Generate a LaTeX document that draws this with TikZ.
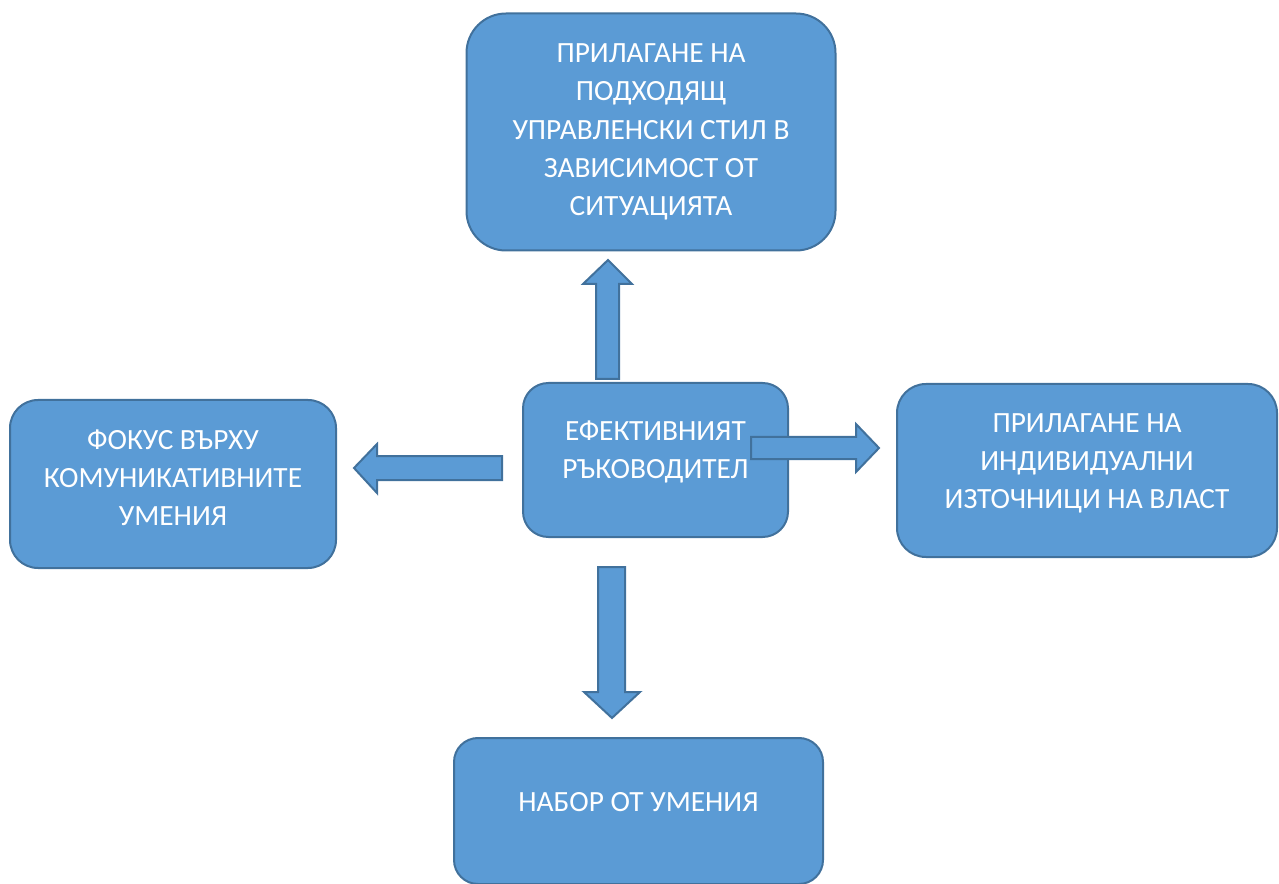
\documentclass[tikz,border=0pt]{standalone}
\usepackage{fontspec}
\setmainfont{Carlito}
\definecolor{boxfill}{HTML}{5B9BD5}
\definecolor{boxline}{HTML}{41719C}
\tikzset{
  box/.style={draw=boxline, fill=boxfill, line width=1.5pt, text=white,
    align=center, font=\fontsize{22}{28.6}\selectfont, inner sep=0pt},
  blockarrow/.style={draw=boxline, fill=boxfill, line width=1.5pt, line join=miter}
}

\begin{document}
\begin{tikzpicture}[x=0.75pt,y=-0.75pt]
   \useasboundingbox (0,0) rectangle (1279,884);
   \node[box,minimum width=276.75pt,minimum height=177.75pt,rounded corners=29.6pt]
     (style) at (651,132) {ПРИЛАГАНЕ НА\\ПОДХОДЯЩ\\УПРАВЛЕНСКИ СТИЛ В\\ЗАВИСИМОСТ ОТ\\СИТУАЦИЯТА};
   \node[box,minimum width=244.5pt,minimum height=126pt,rounded corners=21pt,text depth=9pt]
     (comm) at (173,484) {ФОКУС ВЪРХУ\\КОМУНИКАТИВНИТЕ\\УМЕНИЯ};
   \node[box,minimum width=198.75pt,minimum height=115.5pt,rounded corners=19pt,text depth=15pt]
     (leader) at (655.5,460) {ЕФЕКТИВНИЯТ\\РЪКОВОДИТЕЛ};
   \node[box,minimum width=285pt,minimum height=129.75pt,rounded corners=21.7pt,text depth=14pt]
     (power) at (1087,470.5) {ПРИЛАГАНЕ НА\\ИНДИВИДУАЛНИ\\ИЗТОЧНИЦИ НА ВЛАСТ};
   \node[box,minimum width=276.75pt,minimum height=109.5pt,rounded corners=18pt,text depth=14pt]
     (skills) at (638.5,811) {НАБОР ОТ УМЕНИЯ};
   % block arrows
   \draw[blockarrow] (596,379) -- (596,284) -- (583,284) -- (608,260) -- (632,284)
     -- (619,284) -- (619,379) -- cycle;
   \draw[blockarrow] (502,456) -- (377,456) -- (377,444) -- (354,468) -- (377,493)
     -- (377,480) -- (502,480) -- cycle;
   \draw[blockarrow] (751,437) -- (856,437) -- (856,424) -- (879,448) -- (856,472)
     -- (856,459) -- (751,459) -- cycle;
   \draw[blockarrow] (598,567) -- (598,692) -- (584,692) -- (612,718) -- (640,692)
     -- (625,692) -- (625,567) -- cycle;
\end{tikzpicture}
\end{document}
